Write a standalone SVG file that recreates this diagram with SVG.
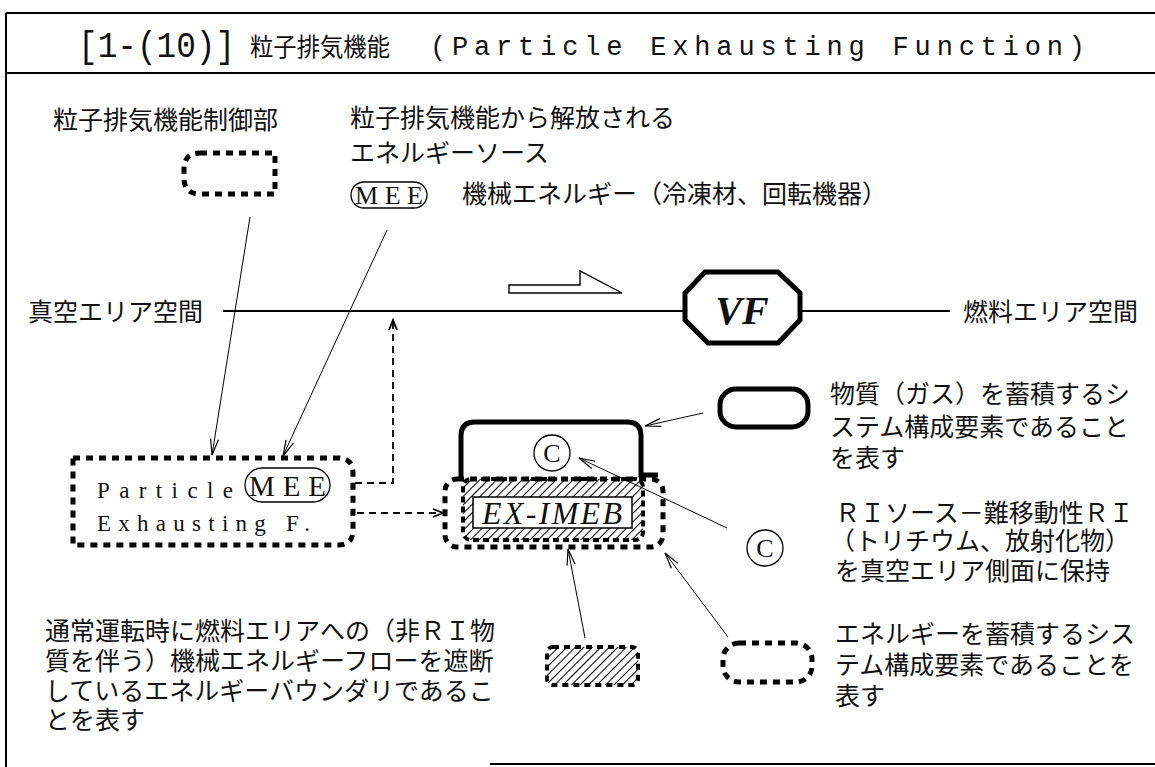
<svg xmlns="http://www.w3.org/2000/svg" width="1155" height="767" viewBox="0 0 1155 767">
<defs>
<style>
.jp{font-family:"Noto Sans CJK JP","Noto Sans CJK SC",sans-serif;font-size:25px;fill:#111}
.frame{stroke:#000;stroke-width:2;fill:none}
.lead{stroke:#000;stroke-width:1;fill:none}
.dash{stroke:#000;stroke-width:1.8;fill:none;stroke-dasharray:7 5}
.dot{stroke:#000;stroke-width:5;fill:none;stroke-dasharray:7 6}
.thick{stroke:#000;stroke-width:5;fill:none}
.serif{font-family:"Liberation Serif",serif;fill:#111}
.mono{font-family:"Liberation Mono",monospace;fill:#111}
</style>
<marker id="arr" markerUnits="userSpaceOnUse" viewBox="-17 -6 19 12" refX="0" refY="0" markerWidth="19" markerHeight="12" orient="auto">
<path d="M-16,-4 L0,0 L-16,4" fill="none" stroke="#000" stroke-width="1.2"/>
</marker>
<marker id="arrS" markerUnits="userSpaceOnUse" viewBox="-12 -6 14 12" refX="0" refY="0" markerWidth="14" markerHeight="12" orient="auto">
<path d="M-10,-4 L0,0 L-10,4" fill="none" stroke="#000" stroke-width="1.8"/>
</marker>
<pattern id="hatch" width="6" height="6" patternUnits="userSpaceOnUse" patternTransform="rotate(45)">
<line x1="0" y1="0" x2="0" y2="6" stroke="#000" stroke-width="2"/>
</pattern>
</defs>
<rect width="1155" height="767" fill="#fff"/>

<g id="frame">
<line class="frame" x1="6" y1="13" x2="6" y2="767"/>
<line class="frame" x1="6" y1="13" x2="1155" y2="13"/>
<line class="frame" x1="6" y1="73" x2="1155" y2="73"/>
<line class="frame" x1="490" y1="764" x2="1155" y2="764"/>
</g>

<g id="title">
<text class="mono" x="78" y="57" font-size="36" textLength="157" lengthAdjust="spacingAndGlyphs">[1-(10)]</text>
<text class="jp" x="250" y="56" font-size="26" textLength="140" lengthAdjust="spacingAndGlyphs">粒子排気機能</text>
<text class="mono" x="430" y="55" font-size="27" textLength="655" lengthAdjust="spacing">(Particle Exhausting Function)</text>
</g>

<g id="legend-control">
<text class="jp" x="53" y="129">粒子排気機能制御部</text>
<path class="dot" d="M200,153 L275,153 L275,194 L200,194 Q184,194 184,178 L184,169 Q184,153 200,153 Z"/>
</g>

<g id="legend-energy-source">
<text class="jp" x="350" y="127">粒子排気機能から解放される</text>
<text class="jp" x="350" y="162">エネルギーソース</text>
<rect x="351" y="182" width="76" height="26" rx="13" fill="none" stroke="#000" stroke-width="1.3"/>
<text class="serif" x="355" y="204" font-size="26" textLength="68" lengthAdjust="spacing">MEE</text>
<text class="jp" x="462" y="203">機械エネルギー（冷凍材、回転機器）</text>
</g>

<g id="flow-arrow">
<path d="M509,285 L580,285 L580,271 L622,293 L509,293 Z" fill="#fff" stroke="#000" stroke-width="1.4"/>
</g>

<g id="vacuum-label">
<text class="jp" x="28" y="321">真空エリア空間</text>
</g>
<g id="fuel-label">
<text class="jp" x="963" y="321">燃料エリア空間</text>
</g>

<g id="VF">
<path class="thick" d="M705,272 L778,272 L800,293 L800,320 L778,343 L708,343 L685,320 L685,293 Z" fill="#fff"/>
<text class="serif" x="742" y="324" font-size="40" font-weight="bold" font-style="italic" text-anchor="middle">VF</text>
</g>

<g id="particle-box">
<path class="dot" d="M73,458 L338,458 Q353,458 353,473 L353,530 Q353,545 338,545 L73,545 Z"/>
<text class="serif" x="97" y="498" font-size="23" textLength="136" lengthAdjust="spacing">Particle</text>
<rect x="245" y="468" width="85" height="34" rx="17" fill="none" stroke="#000" stroke-width="1.3"/>
<text class="serif" x="249" y="496" font-size="29" textLength="77" lengthAdjust="spacing">MEE</text>
<text class="serif" x="97" y="531" font-size="23" textLength="213" lengthAdjust="spacing">Exhausting F.</text>
</g>

<g id="ex-imeb">
<path class="thick" d="M461,480 L461,436 Q461,422 475,422 L627,422 Q641,422 641,436 L641,475 L658,475"/>
<circle cx="552" cy="453" r="18" fill="#fff" stroke="#000" stroke-width="1.3"/>
<text class="serif" x="552" y="462" font-size="26" text-anchor="middle">C</text>
<rect x="445" y="479" width="218" height="68" rx="12" class="dot"/>
<rect x="463" y="479" width="180" height="61" rx="8" fill="url(#hatch)" stroke="#000" stroke-width="4" stroke-dasharray="6 4"/>
<rect x="473" y="497" width="159" height="31" fill="#fff" stroke="#000" stroke-width="1.5"/>
<text class="serif" x="482" y="524" font-size="32" font-style="italic" textLength="140" lengthAdjust="spacing">EX-IMEB</text>
</g>

<g id="legend-gas">
<rect x="720" y="389" width="88" height="38" rx="16" class="thick"/>
<text class="jp" x="830" y="403">物質（ガス）を蓄積するシ</text>
<text class="jp" x="830" y="436">ステム構成要素であること</text>
<text class="jp" x="830" y="467">を表す</text>
</g>

<g id="legend-ri">
<circle cx="765" cy="548" r="18" fill="none" stroke="#000" stroke-width="1.3"/>
<text class="serif" x="765" y="557" font-size="26" text-anchor="middle">C</text>
<text class="jp" x="835" y="522">ＲＩソース－難移動性ＲＩ</text>
<text class="jp" x="830" y="550">（トリチウム、放射化物）</text>
<text class="jp" x="835" y="580">を真空エリア側面に保持</text>
</g>

<g id="legend-boundary">
<rect x="547" y="647" width="91" height="38" rx="6" fill="url(#hatch)" stroke="#000" stroke-width="4" stroke-dasharray="6 5"/>
<text class="jp" x="45" y="640">通常運転時に燃料エリアへの（非ＲＩ物</text>
<text class="jp" x="45" y="670">質を伴う）機械エネルギーフローを遮断</text>
<text class="jp" x="45" y="700">しているエネルギーバウンダリであるこ</text>
<text class="jp" x="45" y="729">とを表す</text>
</g>

<g id="legend-energy">
<rect x="723" y="643" width="89" height="39" rx="16" class="dot"/>
<text class="jp" x="835" y="643">エネルギーを蓄積するシス</text>
<text class="jp" x="835" y="674">テム構成要素であることを</text>
<text class="jp" x="835" y="705">表す</text>
</g>

<g id="connectors">
<line x1="223" y1="311" x2="685" y2="311" stroke="#000" stroke-width="2"/>
<line x1="800" y1="311" x2="950" y2="311" stroke="#000" stroke-width="2"/>
<line class="lead" x1="250" y1="217" x2="212" y2="455" marker-end="url(#arr)"/>
<line class="lead" x1="387" y1="230" x2="283" y2="456" marker-end="url(#arr)"/>
<polyline class="dash" points="355,483 393,483 393,320" marker-end="url(#arrS)"/>
<line class="dash" x1="357" y1="513" x2="443" y2="513" marker-end="url(#arrS)"/>
<line class="lead" x1="703" y1="413" x2="645" y2="426" marker-end="url(#arr)"/>
<line class="lead" x1="727" y1="528" x2="579" y2="458" marker-end="url(#arr)"/>
<line class="lead" x1="585" y1="638" x2="568" y2="549" marker-end="url(#arr)"/>
<line class="lead" x1="728" y1="637" x2="665" y2="553" marker-end="url(#arr)"/>
</g>
</svg>
